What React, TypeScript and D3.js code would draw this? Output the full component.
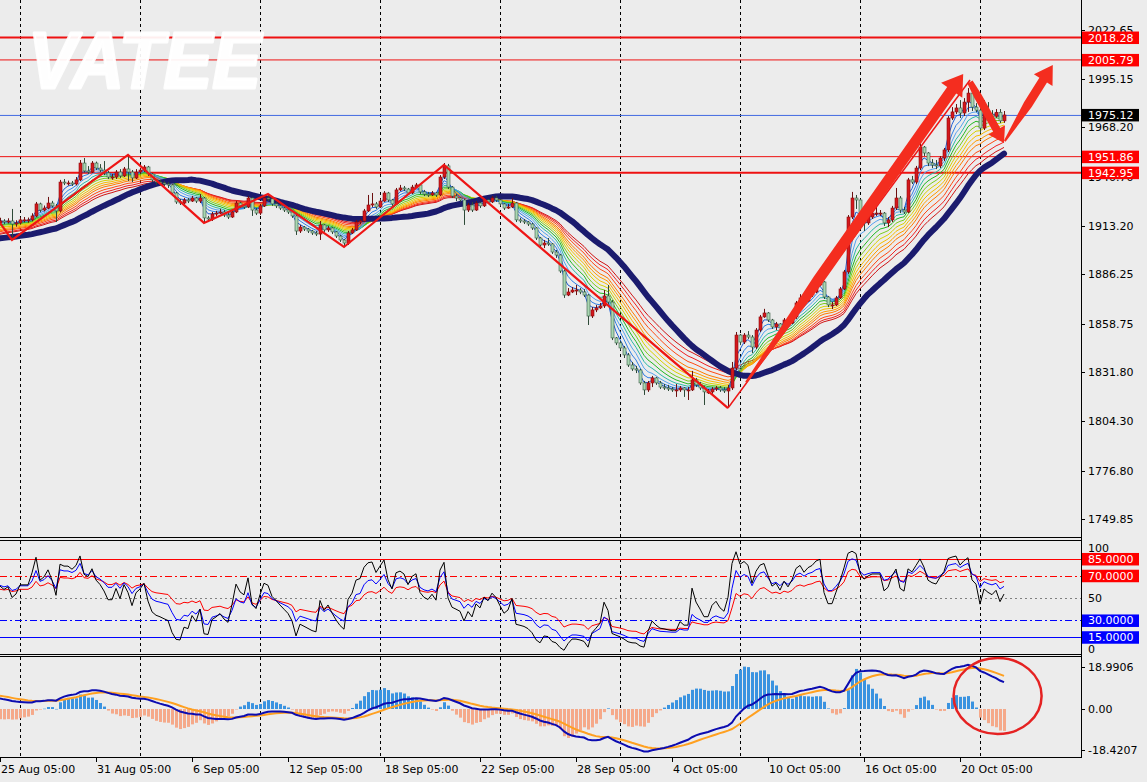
import React from "react";
import * as d3 from "d3";

// ---------- DATA (H4 candles) ----------
const firstOpen = 1915.0;
const closes = [
1916.0,1915.4,1916.0,1914.3,1914.9,1916.6,1916.6,1916.6,1918.8,1925.5,
1922.1,1923.2,1926.0,1924.4,1921.6,1937.7,1937.2,1937.2,1936.6,1938.9,
1948.3,1943.9,1943.3,1948.3,1945.5,1944.4,1942.8,1940.5,1940.5,1943.3,
1941.1,1945.0,1943.3,1940.0,1943.3,1944.4,1946.1,1942.2,1938.9,1937.7,
1937.2,1936.6,1936.1,1931.6,1926.6,1926.0,1927.7,1927.1,1928.8,1927.1,
1928.8,1917.7,1917.1,1919.9,1920.4,1921.0,1919.3,1918.2,1921.0,1926.0,
1924.4,1923.8,1928.8,1922.1,1920.4,1924.4,1928.8,1928.3,1925.5,1924.4,
1923.2,1922.1,1921.0,1918.8,1910.4,1912.6,1911.5,1910.4,1909.3,1908.7,
1913.8,1911.0,1912.1,1909.9,1907.6,1905.4,1903.7,1909.3,1911.0,1915.4,
1916.0,1921.6,1924.9,1925.5,1923.8,1927.1,1931.6,1927.7,1925.5,1933.3,
1934.4,1933.8,1931.6,1934.9,1936.1,1932.2,1931.0,1930.5,1931.6,1930.5,
1940.5,1946.7,1934.9,1929.9,1928.8,1927.7,1922.1,1924.9,1922.1,1926.0,
1924.4,1927.7,1926.6,1928.8,1927.7,1925.5,1923.2,1923.8,1926.0,1916.6,
1916.0,1915.4,1914.3,1912.1,1906.5,1902.6,1903.7,1903.2,1898.7,1897.0,
1888.1,1874.7,1876.4,1877.5,1877.5,1876.4,1874.7,1863.0,1866.4,1867.5,
1868.6,1874.2,1870.8,1850.8,1848.0,1845.2,1841.3,1835.7,1833.5,1832.9,
1825.7,1821.8,1825.7,1828.5,1825.7,1823.4,1822.9,1822.3,1821.8,1821.8,
1822.9,1821.8,1821.8,1827.4,1824.6,1822.9,1820.7,1820.7,1822.3,1822.9,
1821.8,1821.2,1822.9,1834.0,1852.4,1848.5,1852.4,1851.3,1845.7,1855.2,
1862.5,1864.7,1860.8,1856.9,1858.6,1856.3,1860.8,1859.1,1862.5,1870.3,
1873.1,1871.4,1874.7,1876.4,1880.3,1882.0,1873.6,1869.2,1869.2,1873.1,
1878.1,1887.6,1918.2,1928.8,1927.7,1918.2,1914.9,1918.2,1920.4,1920.4,
1920.4,1914.9,1916.6,1923.2,1928.8,1922.1,1921.0,1938.9,1937.7,1945.5,
1957.2,1953.9,1948.3,1947.2,1946.7,1951.1,1955.6,1973.4,1976.8,1979.0,
1976.2,1982.3,1987.3,1979.5,1977.8,1967.8,1977.3,1975.5,1974.4,1976.6,
1971.8,1975.1
];
const highs = [
1917.8,1917.0,1917.5,1922.7,1916.4,1918.0,1918.2,1917.9,1920.3,1926.6,
1926.2,1924.6,1929.4,1927.2,1925.5,1938.9,1939.4,1938.5,1938.3,1940.5,
1950.0,1951.1,1946.6,1949.4,1949.1,1947.7,1949.4,1943.9,1942.2,1944.4,
1944.9,1946.1,1952.8,1944.4,1944.9,1945.5,1947.2,1946.7,1942.8,1939.4,
1938.9,1938.3,1937.7,1936.6,1932.2,1928.3,1928.8,1928.8,1930.0,1929.4,
1931.0,1929.4,1918.8,1921.0,1921.6,1922.7,1922.1,1920.4,1922.1,1927.1,
1926.6,1925.5,1929.9,1929.4,1923.2,1925.5,1929.9,1931.0,1929.4,1926.6,
1925.5,1923.8,1922.7,1921.6,1919.3,1913.8,1913.2,1912.1,1911.0,1910.4,
1916.0,1914.3,1913.2,1912.6,1910.4,1908.2,1906.0,1910.4,1912.1,1916.6,
1917.1,1922.7,1930.5,1931.6,1926.6,1928.3,1932.7,1932.2,1928.3,1934.4,
1936.1,1935.5,1934.4,1936.1,1937.2,1936.6,1933.3,1932.2,1932.7,1932.2,
1941.6,1948.3,1947.8,1935.5,1931.0,1929.4,1928.3,1926.0,1926.6,1927.1,
1926.6,1928.8,1928.3,1929.9,1930.0,1928.3,1926.0,1925.5,1928.8,1926.6,
1917.7,1917.1,1916.0,1914.9,1912.6,1907.1,1905.4,1906.5,1903.7,1899.8,
1897.6,1888.7,1878.6,1879.2,1880.3,1878.6,1878.0,1875.2,1868.0,1869.1,
1870.3,1877.5,1880.3,1871.9,1851.3,1849.1,1846.3,1842.4,1837.4,1835.2,
1833.5,1826.8,1826.8,1829.6,1829.1,1826.8,1825.1,1824.6,1823.4,1825.1,
1824.0,1823.4,1823.4,1832.4,1828.5,1826.3,1824.0,1822.3,1823.4,1824.0,
1824.0,1823.4,1824.6,1837.4,1854.1,1853.0,1853.5,1854.6,1852.4,1856.3,
1863.6,1867.0,1865.2,1861.4,1859.7,1859.1,1861.9,1861.9,1864.1,1871.4,
1875.2,1874.2,1875.8,1877.5,1881.4,1884.2,1882.5,1874.2,1870.8,1874.2,
1879.2,1888.7,1919.3,1932.2,1930.5,1928.3,1919.9,1919.3,1921.6,1923.8,
1922.1,1921.0,1918.2,1924.4,1934.4,1929.9,1923.8,1940.0,1941.1,1946.7,
1960.5,1957.8,1954.4,1950.5,1950.0,1952.2,1956.7,1974.5,1979.5,1981.2,
1983.4,1984.5,1990.1,1993.0,1981.7,1978.9,1983.4,1982.3,1977.8,1978.4,
1978.4,1977.3
];
const lows = [
1913.9,1914.2,1914.6,1905.4,1912.8,1914.0,1915.2,1915.0,1915.8,1918.0,
1921.0,1921.3,1922.5,1923.5,1915.4,1920.8,1936.0,1935.8,1935.5,1935.8,
1938.3,1943.0,1942.2,1942.7,1944.4,1943.3,1941.6,1939.4,1939.0,1939.4,
1940.0,1940.5,1938.3,1937.7,1939.4,1942.2,1943.3,1941.1,1937.7,1936.1,
1936.0,1935.5,1934.4,1930.5,1925.5,1924.9,1925.5,1926.0,1926.6,1926.0,
1926.0,1914.9,1915.4,1916.0,1918.8,1919.9,1918.2,1917.1,1917.7,1920.4,
1923.2,1922.7,1923.2,1918.8,1919.3,1919.3,1923.8,1927.1,1924.4,1923.2,
1922.1,1921.0,1919.9,1917.7,1908.2,1909.3,1910.4,1909.3,1908.2,1907.6,
1905.4,1909.9,1909.9,1908.7,1906.5,1904.3,1901.5,1902.6,1908.7,1910.4,
1914.3,1915.4,1921.0,1923.8,1922.7,1923.2,1926.6,1926.6,1924.4,1924.9,
1932.7,1932.7,1930.5,1931.0,1934.4,1931.0,1929.9,1929.4,1929.9,1929.4,
1929.9,1939.4,1933.8,1928.8,1927.1,1926.6,1913.8,1921.0,1921.0,1921.6,
1923.2,1923.8,1925.5,1926.0,1926.6,1924.4,1922.1,1922.7,1923.2,1915.4,
1914.9,1914.3,1913.2,1911.0,1905.4,1901.5,1900.9,1902.1,1897.6,1895.4,
1887.0,1873.1,1874.1,1875.8,1874.7,1875.2,1873.6,1858.0,1861.9,1865.2,
1866.9,1867.5,1869.7,1849.6,1846.8,1844.1,1839.6,1834.6,1832.4,1831.2,
1824.6,1819.0,1820.7,1823.4,1824.6,1822.3,1821.8,1821.2,1820.7,1817.9,
1820.7,1817.9,1816.2,1821.2,1823.4,1821.8,1813.4,1819.6,1819.6,1821.2,
1820.7,1820.1,1811.7,1821.8,1832.9,1846.8,1847.4,1850.2,1842.4,1844.6,
1854.1,1862.0,1859.7,1855.8,1855.2,1853.5,1855.8,1858.0,1858.6,1861.4,
1869.7,1870.3,1870.8,1873.6,1875.8,1879.7,1872.5,1868.0,1866.9,1868.6,
1872.5,1877.5,1886.5,1917.1,1922.7,1914.9,1910.4,1913.8,1917.1,1918.8,
1918.8,1913.2,1912.6,1915.4,1922.1,1920.4,1919.9,1920.4,1936.6,1936.6,
1944.4,1952.2,1946.6,1945.5,1944.9,1945.5,1949.4,1954.4,1972.3,1975.6,
1973.4,1974.5,1976.8,1977.3,1976.7,1965.0,1966.7,1974.4,1972.9,1973.5,
1970.6,1970.7
];

// time axis
const dateLabels = ["25 Aug 05:00","31 Aug 05:00","6 Sep 05:00","12 Sep 05:00","18 Sep 05:00","22 Sep 05:00","28 Sep 05:00","4 Oct 05:00","10 Oct 05:00","16 Oct 05:00","20 Oct 05:00"];
const dateLabelIdx = [0,24,48,72,96,120,144,168,192,216,240];
const gridIdx = [5,35,65,95,125,155,185,215,245];

// price axis
const priceTicks = [2022.65,1995.15,1968.20,1940.70,1913.20,1886.25,1858.75,1831.80,1804.30,1776.80,1749.85];
const levelPrices = [2018.28,2005.79,1951.86,1942.95];
const currentPrice = 1975.12;

// zigzag & annotations (candle index, price)
const zigIdx = [0,3,32,51,67,86,111,182];
const zigPrice = [1914.9,1905.4,1952.8,1914.9,1931.0,1901.5,1947.2,1811.7];
const channelIdx = [182,242.5];
const channelPrice = [1811.7,1994.6];
const arrowFromIdx = [186.5,242.5,251.2];
const arrowFromPrice = [1826.0,1993.5,1960.5];
const arrowToIdx = [240.8,251.0,263.2];
const arrowToPrice = [1998.0,1959.5,2003.0];

// indicator settings
const rainbowPeriods = [3,5,7,9,11,13,15,17,19,21,24,27,30];
const rainbowSeeds = [1916.2,1915.6,1914.9,1914.4,1913.5,1912.9,1912.0,1911.6,1910.7,1910.0,1909.5,1908.6,1908.1];
const navyPeriod = 34;
const navySeed = 1906.0;
const rsiPeriods = [6,12,24];
const rsiSeedGain = [1.5,1.5,1.4];
const rsiSeedLoss = [1.1,1.0,1.05];
const oscLevels = [85,70,50,30,15];
const macdPeriods = [12,26,9];
const macdSeeds = [1915.5,1910.5,6.3];
const histScale = 3.5;
const macdAxis = [18.9906,0,-18.4207];
const macdAxisText = ["18.9906","0.00","-18.4207"];
const circleIdx = 249.4, circleVal = 5.8, circleSpanIdx = 11, circleSpanVal = 17;

// ---------- helpers ----------
const ema = (vals: number[], p: number, seed: number) => {
  const k = 2 / (p + 1); let e = seed;
  return vals.map(v => (e = e + k * (v - e)));
};
const smaSeeded = (vals: number[], p: number, seed: number) =>
  vals.map((_, i) => {
    let s = 0;
    for (let j = i - p + 1; j <= i; j++) s += j < 0 ? seed : vals[j];
    return s / p;
  });
function rsi(vals: number[], p: number, g0: number, l0: number) {
  let ag = g0, al = l0;
  return vals.map((c, i) => {
    const prev = i === 0 ? firstOpen : vals[i - 1];
    const ch = c - prev;
    ag = (ag * (p - 1) + Math.max(ch, 0)) / p;
    al = (al * (p - 1) + Math.max(-ch, 0)) / p;
    return al === 0 ? 100 : 100 - 100 / (1 + ag / al);
  });
}
function arrowPath(x0: number, y0: number, x1: number, y1: number, wT: number, wB: number, taper: number, hW: number, hL: number) {
  const dx = x1 - x0, dy = y1 - y0, L = Math.hypot(dx, dy);
  const ux = dx / L, uy = dy / L, nx = -uy, ny = ux, bl = L - hL;
  const pt = (d: number, o: number) => `${(x0 + ux * d + nx * o).toFixed(1)},${(y0 + uy * d + ny * o).toFixed(1)}`;
  const pts = [pt(0, wT / 2), pt(bl * taper, wB / 2), pt(bl, wB / 2), pt(bl, hW / 2), pt(L, 0), pt(bl, -hW / 2), pt(bl, -wB / 2), pt(bl * taper, -wB / 2), pt(0, -wT / 2)];
  return "M" + pts.join("L") + "Z";
}

const rainbowColors = ["#1d5fd6","#2f7fe6","#55a2ee","#2bb8a6","#22b822","#7ccc1e","#d8d200","#f5bd00","#ff9d00","#ff7a00","#ff4a12","#f02020","#cf1515"];
const levelWidths = [2,1,1,2];
const oscColors = ["#000000","#0000ff","#ff0000"];
const oscLevelColors = ["#ff0000","#ff0000","#808080","#0000ff","#0000ff"];
const oscLevelDash = ["", "7,3,2,3", "2,3", "7,3,2,3", ""];
const arrowGeom = [
  { wT: 2, wB: 11, taper: 0.35, hW: 26, hL: 20 },
  { wT: 6, wB: 8, taper: 0.3, hW: 19, hL: 15 },
  { wT: 2, wB: 9, taper: 0.6, hW: 22, hL: 18 },
];

export default function App() {
  const opens = closes.map((c, i) => (i === 0 ? firstOpen : closes[i - 1]));
  const RIGHT = 1081;
  const x = d3.scaleLinear().domain([0, 270.25]).range([0, RIGHT]);
  const y = d3.scaleLinear().domain([1739.8, 2039.2]).range([537, 0]);
  const yo = d3.scaleLinear().domain([0, 100]).range([654, 542.2]);
  const ym = d3.scaleLinear().domain([-21.48, 23.71]).range([757, 656]);

  const rainbow = rainbowPeriods.map((p, k) => ema(closes, p, rainbowSeeds[k]));
  const navy = smaSeeded(closes, navyPeriod, navySeed);
  const osc = rsiPeriods.map((p, k) => rsi(closes, p, rsiSeedGain[k], rsiSeedLoss[k]));
  const eF = ema(closes, macdPeriods[0], macdSeeds[0]);
  const eS = ema(closes, macdPeriods[1], macdSeeds[1]);
  const macd = eF.map((v, i) => v - eS[i]);
  const signal = ema(macd, macdPeriods[2], macdSeeds[2]);
  const hist = macd.map((v, i) => (v - signal[i]) * histScale);

  const lineMain = d3.line<number>().x((_, i) => x(i)).y(d => y(d));
  const lineOsc = d3.line<number>().x((_, i) => x(i)).y(d => yo(d));
  const lineMacd = d3.line<number>().x((_, i) => x(i)).y(d => ym(d));
  const zig = d3.line<number>().x(i => x(zigIdx[i])).y(i => y(zigPrice[i]))(zigIdx.map((_, i) => i));
  const chan = d3.line<number>().x(i => x(channelIdx[i])).y(i => y(channelPrice[i]))([0, 1]);

  const font = "DejaVu Sans";
  const lblBox = (cy: number, fill: string, text: string, key: string) => (
    <g key={key}>
      <rect x={1082} y={cy - 6} width={57} height={12.5} fill={fill} />
      <text x={1088} y={cy + 4} fontSize={11} fill="#fff" fontFamily={font}>{text}</text>
    </g>
  );

  return (
    <svg width={1147} height={782} style={{ position: "fixed", left: 0, top: 0, display: "block" }}>
      <defs>
        <clipPath id="mainClip"><rect x={0} y={0} width={RIGHT} height={537} /></clipPath>
        <clipPath id="oscClip"><rect x={0} y={540} width={RIGHT} height={114} /></clipPath>
        <clipPath id="macdClip"><rect x={0} y={656} width={RIGHT} height={101} /></clipPath>
      </defs>
      <rect x={0} y={0} width={1147} height={782} fill="#ececec" />

      {/* vertical dashed grid */}
      {gridIdx.map(g => (
        <g key={"g" + g} stroke="#000" strokeWidth={1} strokeDasharray="3,3">
          <line x1={x(g) + 0.5} x2={x(g) + 0.5} y1={0} y2={537} />
          <line x1={x(g) + 0.5} x2={x(g) + 0.5} y1={541} y2={654} />
          <line x1={x(g) + 0.5} x2={x(g) + 0.5} y1={657} y2={757} />
        </g>
      ))}

      {/* main panel */}
      <g clipPath="url(#mainClip)">
        {levelPrices.map((p, k) => (
          <line key={"lv" + k} x1={0} x2={RIGHT} y1={y(p)} y2={y(p)} stroke="#ee1111" strokeWidth={levelWidths[k]} />
        ))}
        <line x1={0} x2={RIGHT} y1={y(currentPrice) + 0.5} y2={y(currentPrice) + 0.5} stroke="#4169e1" strokeWidth={1} />
        {rainbow.slice().reverse().map((s, k) => (
          <path key={"rb" + k} d={lineMain(s) || ""} fill="none" stroke={rainbowColors[rainbow.length - 1 - k]} strokeWidth={1} />
        ))}
        <path d={lineMain(navy) || ""} fill="none" stroke="#1b1b6e" strokeWidth={6} strokeLinejoin="round" strokeLinecap="round" />
        {closes.map((c, i) => {
          const o = opens[i];
          const up = c >= o;
          const xc = x(i);
          const top = y(Math.max(o, c)), bot = y(Math.min(o, c));
          return (
            <g key={"c" + i}>
              <line x1={xc + 0.5} x2={xc + 0.5} y1={y(highs[i])} y2={y(lows[i])} stroke={up ? "#6b1010" : "#2e4a38"} strokeWidth={1} />
              <rect x={xc - 1} y={top} width={3} height={Math.max(1, bot - top)} fill={up ? "#d4181d" : "#a9d6b2"} stroke={up ? "#8a0c0c" : "#3a5c45"} strokeWidth={0.6} />
            </g>
          );
        })}
        <path d={zig || ""} fill="none" stroke="#ee1515" strokeWidth={2.2} strokeLinejoin="miter" />
        <path d={chan || ""} fill="none" stroke="#ee1515" strokeWidth={1.5} />
        {arrowFromIdx.map((fi, k) => {
          const g = arrowGeom[k];
          return (
            <path key={"ar" + k}
              d={arrowPath(x(fi), y(arrowFromPrice[k]), x(arrowToIdx[k]), y(arrowToPrice[k]), g.wT, g.wB, g.taper, g.hW, g.hL)}
              fill="#f42d1f" />
          );
        })}
        <text x={28} y={88} fontFamily="Liberation Sans" fontWeight={700} fontStyle="italic" fontSize={80}
          textLength={233} lengthAdjust="spacingAndGlyphs" fill="#ffffff" fillOpacity={0.93}
          stroke="#ffffff" strokeOpacity={0.93} strokeWidth={3} strokeLinejoin="round">VATEE</text>
      </g>

      {/* oscillator panel */}
      <g clipPath="url(#oscClip)">
        {oscLevels.map((v, k) => (
          <line key={"ol" + k} x1={0} x2={RIGHT} y1={Math.round(yo(v)) + 0.5} y2={Math.round(yo(v)) + 0.5}
            stroke={oscLevelColors[k]} strokeWidth={1} strokeDasharray={oscLevelDash[k] || undefined} />
        ))}
        {osc.slice().reverse().map((s, k) => (
          <path key={"os" + k} d={lineOsc(s) || ""} fill="none" stroke={oscColors[osc.length - 1 - k]} strokeWidth={1} />
        ))}
      </g>

      {/* MACD panel */}
      <g clipPath="url(#macdClip)">
        {hist.map((h, i) => {
          const y0 = ym(0), y1 = ym(h);
          return <rect key={"h" + i} x={x(i) - 1} y={Math.min(y0, y1)} width={3} height={Math.max(0.5, Math.abs(y1 - y0))}
            fill={h >= 0 ? "#3a93e0" : "#f5a98a"} />;
        })}
        <path d={lineMacd(signal) || ""} fill="none" stroke="#ffa020" strokeWidth={2} />
        <path d={lineMacd(macd) || ""} fill="none" stroke="#0c0cb0" strokeWidth={2} />
        <ellipse cx={x(circleIdx)} cy={ym(circleVal)} rx={x(circleSpanIdx) - x(0)} ry={ym(0) - ym(circleSpanVal)}
          fill="none" stroke="#e52222" strokeWidth={2.5} />
      </g>

      {/* borders */}
      <g stroke="#000" strokeWidth={1}>
        <line x1={0} x2={RIGHT} y1={537.5} y2={537.5} />
        <line x1={0} x2={RIGHT} y1={540.5} y2={540.5} />
        <line x1={0} x2={RIGHT} y1={654.5} y2={654.5} />
        <line x1={0} x2={RIGHT} y1={656.5} y2={656.5} />
        <line x1={0} x2={RIGHT} y1={757.5} y2={757.5} />
        <line x1={RIGHT + 0.5} x2={RIGHT + 0.5} y1={0} y2={758} />
      </g>

      {/* price axis */}
      {priceTicks.map(p => (
        <g key={"pt" + p}>
          <line x1={RIGHT} x2={RIGHT + 4} y1={Math.round(y(p)) + 0.5} y2={Math.round(y(p)) + 0.5} stroke="#000" />
          <text x={1088} y={y(p) + 4} fontSize={11} fontFamily={font} fill="#000">{p.toFixed(2)}</text>
        </g>
      ))}
      {levelPrices.map((p, k) => lblBox(y(p), "#ff0000", p.toFixed(2), "lb" + k))}
      {lblBox(y(currentPrice), "#000000", currentPrice.toFixed(2), "cur")}

      {/* oscillator axis */}
      <text x={1088} y={yo(100) + 9.5} fontSize={11} fontFamily={font} fill="#000">100</text>
      <text x={1088} y={yo(50) + 4} fontSize={11} fontFamily={font} fill="#000">50</text>
      <text x={1088} y={yo(0) - 1.5} fontSize={11} fontFamily={font} fill="#000">0</text>
      {oscLevels.map((v, k) => v === 50 ? null : lblBox(yo(v), oscLevelColors[k], v.toFixed(4), "ob" + k))}

      {/* macd axis */}
      {macdAxis.map((v, k) => (
        <g key={"ma" + k}>
          <line x1={RIGHT} x2={RIGHT + 4} y1={Math.round(ym(v)) + 0.5} y2={Math.round(ym(v)) + 0.5} stroke="#000" />
          <text x={1088} y={ym(v) + 4} fontSize={11} fontFamily={font} fill="#000">{macdAxisText[k]}</text>
        </g>
      ))}

      {/* time axis */}
      {dateLabelIdx.map((di, k) => (
        <g key={"d" + k}>
          <line x1={x(di) + 0.5} x2={x(di) + 0.5} y1={757} y2={762} stroke="#000" />
          <text x={x(di) + 1} y={773} fontSize={11} fontFamily={font} fill="#000">{dateLabels[k]}</text>
        </g>
      ))}
    </svg>
  );
}
